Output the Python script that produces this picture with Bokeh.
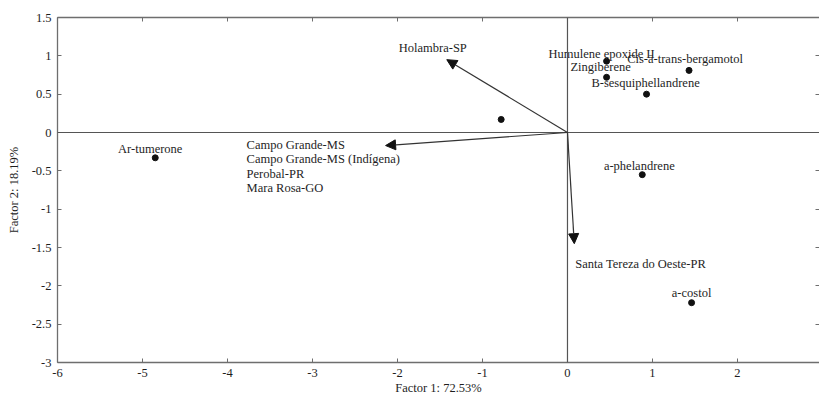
from bokeh.plotting import figure
from bokeh.models import Range1d, LinearAxis, FixedTicker, Arrow, NormalHead, Span, ColumnDataSource
from bokeh.embed import file_html
from bokeh.resources import INLINE
from bokeh.core.properties import value

# ---- data ----
score_names = ["Ar-tumerone", "", "Humulene epoxide II", "Zingiberene",
               "Cis-ā-trans-bergamotol", "B-sesquiphellandrene", "a-phelandrene", "a-costol"]
score_x = [-4.85, -0.78, 0.46, 0.46, 1.43, 0.93, 0.88, 1.46]
score_y = [-0.33, 0.17, 0.93, 0.72, 0.81, 0.50, -0.55, -2.22]

loading_names = ["Holambra-SP",
                 "Campo Grande-MS\nCampo Grande-MS (Indígena)\nPerobal-PR\nMara Rosa-GO",
                 "Santa Tereza do Oeste-PR"]
loading_x = [-1.42, -2.14, 0.08]
loading_y = [0.95, -0.17, -1.45]

x_ticks = [-6, -5, -4, -3, -2, -1, 0, 1, 2]
x_tick_labels = ["-6", "-5", "-4", "-3", "-2", "-1", "0", "1", "2"]
y_ticks = [1.5, 1, 0.5, 0, -0.5, -1, -1.5, -2, -2.5, -3]
y_tick_labels = ["1.5", "1", "0.5", "0", "-0.5", "-1", "-1.5", "-2", "-2.5", "-3"]

x_title = "Factor 1: 72.53%"
y_title = "Factor 2: 18.19%"

# ---- label placement (screen px, style only) ----
score_dx = [-5, 0, -5, -6, -4, -1, -3, 0]
score_dy = [-9, 0, -7, -10, -11, -11, -9, -10]
loading_dx = [-14, -139, 1]
loading_dy = [-12, -8, 20]
loading_align = ["center", "left", "left"]
loading_base = ["middle", "top", "middle"]

FONT = "Liberation Serif"
FS = "12.5px"
TXT = "#1e1e1e"
GRAY = "#6e6e6e"

p = figure(width=819, height=400, x_range=Range1d(-6, 2.965), y_range=Range1d(-3, 1.5),
           output_backend="svg", toolbar_location=None,
           x_axis_location=None, y_axis_location=None,
           min_border_left=57, min_border_right=0, min_border_top=17, min_border_bottom=38)
p.xgrid.visible = False
p.ygrid.visible = False
p.outline_line_color = None
p.background_fill_color = "white"
p.border_fill_color = "white"

def style(ax):
    ax.axis_line_color = GRAY
    ax.axis_line_width = 1.3
    ax.major_tick_line_color = GRAY
    ax.major_tick_in = 4
    ax.major_tick_out = 0
    ax.minor_tick_line_color = None
    ax.major_label_text_font = FONT
    ax.major_label_text_font_size = FS
    ax.major_label_text_color = TXT
    ax.axis_label_text_font = FONT
    ax.axis_label_text_font_size = FS
    ax.axis_label_text_font_style = "normal"
    ax.axis_label_text_color = TXT

left = LinearAxis(ticker=FixedTicker(ticks=y_ticks),
                  major_label_overrides={t: l for t, l in zip(y_ticks, y_tick_labels)},
                  axis_label=y_title)
style(left)
left.major_label_standoff = 6
left.axis_label_standoff = 8
p.add_layout(left, "left")

bottom = LinearAxis(ticker=FixedTicker(ticks=x_ticks),
                    major_label_overrides={t: l for t, l in zip(x_ticks, x_tick_labels)},
                    axis_label=x_title)
style(bottom)
bottom.major_label_standoff = 6
bottom.axis_label_standoff = 1
p.add_layout(bottom, "below")

# tick-only frame sides (no labels)
top = LinearAxis(ticker=FixedTicker(ticks=x_ticks))
style(top)
top.major_label_text_font_size = "1px"
top.major_label_text_color = None
top.major_label_standoff = 0
p.add_layout(top, "above")

right = LinearAxis(ticker=FixedTicker(ticks=y_ticks))
style(right)
right.axis_line_color = None
right.major_label_text_font_size = "1px"
right.major_label_text_color = None
right.major_label_standoff = 0
p.add_layout(right, "right")

p.add_layout(Span(location=0, dimension="height", line_color="#555555", line_width=1.2))
p.add_layout(Span(location=0, dimension="width", line_color="#555555", line_width=1.2))

lsrc = ColumnDataSource(dict(x0=[0] * len(loading_x), y0=[0] * len(loading_y),
                             x1=loading_x, y1=loading_y, name=loading_names,
                             dx=loading_dx, dy=loading_dy,
                             align=loading_align, base=loading_base))
p.add_layout(Arrow(end=NormalHead(size=10, fill_color="#111111", line_color="#111111", line_width=1),
                   x_start="x0", y_start="y0", x_end="x1", y_end="y1",
                   line_color="#333333", line_width=1.2, source=lsrc))
p.text(x="x1", y="y1", text="name", source=lsrc, x_offset="dx", y_offset="dy",
       text_align="align", text_baseline="base", text_font=value(FONT),
       text_font_size=FS, text_color=TXT, text_line_height=1.04)

ssrc = ColumnDataSource(dict(x=score_x, y=score_y))
p.scatter(x="x", y="y", source=ssrc, size=6, color="#111111")

keep = [i for i, n in enumerate(score_names) if n]
tsrc = ColumnDataSource(dict(x=[score_x[i] for i in keep], y=[score_y[i] for i in keep],
                             name=[score_names[i] for i in keep],
                             dx=[score_dx[i] for i in keep], dy=[score_dy[i] for i in keep]))
p.text(x="x", y="y", text="name", source=tsrc, x_offset="dx", y_offset="dy",
       text_align="center", text_baseline="middle", text_font=value(FONT),
       text_font_size=FS, text_color=TXT)

open("out.html", "w").write(file_html(p, INLINE))
